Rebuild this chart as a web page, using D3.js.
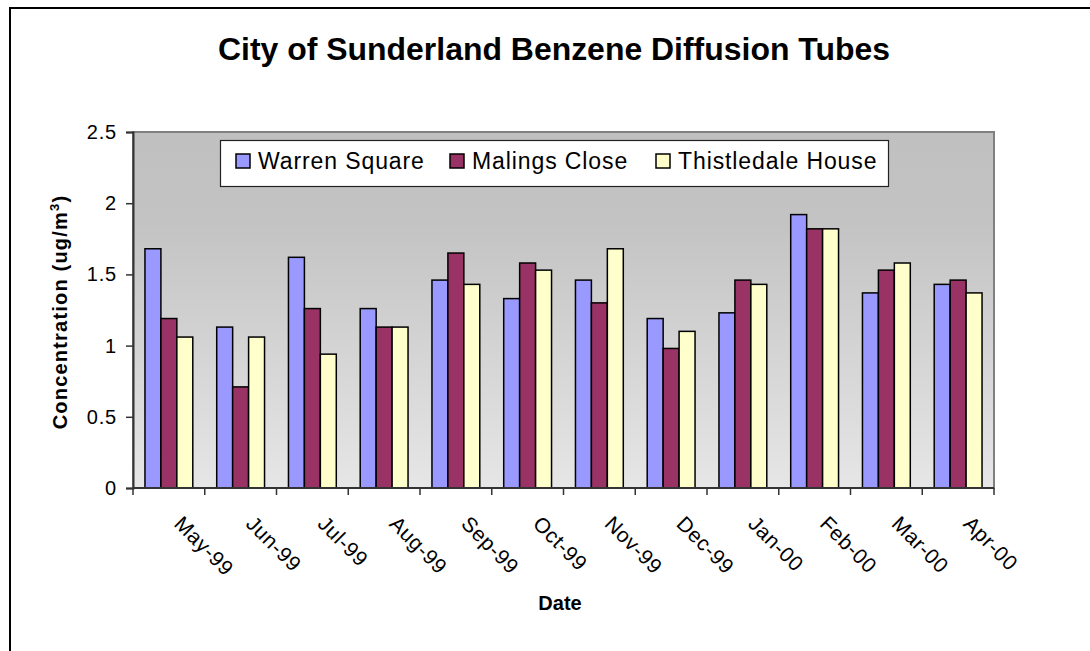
<!DOCTYPE html>
<html>
<head>
<meta charset="utf-8">
<script src="https://cdn.jsdelivr.net/npm/d3@7"></script>
<style>
  body{margin:0;background:#fff;}
  svg{display:block;font-family:Arial,"Liberation Sans",sans-serif;}
</style>
</head>
<body>
<div id="chart"></div>
<script>
// data
const months = ['May-99','Jun-99','Jul-99','Aug-99','Sep-99','Oct-99','Nov-99','Dec-99','Jan-00','Feb-00','Mar-00','Apr-00']
const seriesNames = ['Warren Square','Malings Close','Thistledale House']
const warrenSquare = [1.68,1.13,1.62,1.26,1.46,1.33,1.46,1.19,1.23,1.92,1.37,1.43]
const malingsClose = [1.19,0.71,1.26,1.13,1.65,1.58,1.30,0.98,1.46,1.82,1.53,1.46]
const thistledaleHouse = [1.06,1.06,0.94,1.13,1.43,1.53,1.68,1.10,1.43,1.82,1.58,1.37]
const yTicks = [0,0.5,1,1.5,2,2.5]
const colors = ['#9999ff','#993366','#ffffcc']

const W = 1090, H = 651
const plot = {left:133, right:994, top:132, bottom:488}

const svg = d3.select('#chart').append('svg').attr('width',W).attr('height',H)

// outer chart frame (only top & left visible in the picture)
svg.append('path').attr('d',`M10,${H+5}V8H${W+5}`).attr('fill','none').attr('stroke','#000').attr('stroke-width',2)

const defs = svg.append('defs')
const grad = defs.append('linearGradient').attr('id','bg').attr('x1',0).attr('y1',0).attr('x2',0).attr('y2',1)
grad.append('stop').attr('offset','0').attr('stop-color','#c0c0c0')
grad.append('stop').attr('offset','0.25').attr('stop-color','#c3c3c3')
grad.append('stop').attr('offset','1').attr('stop-color','#e6e6e6')

const x = d3.scaleBand().domain(months).range([plot.left,plot.right]).padding(0)
const xs = d3.scaleBand().domain(seriesNames).range([0,x.bandwidth()]).paddingInner(0).paddingOuter(0.75)
const y = d3.scaleLinear().domain([0,2.5]).range([plot.bottom,plot.top])

// plot area
svg.append('rect')
  .attr('x',plot.left).attr('y',plot.top)
  .attr('width',plot.right-plot.left).attr('height',plot.bottom-plot.top)
  .attr('fill','url(#bg)').attr('stroke','#808080').attr('stroke-width',2)

// bars
const rows = months.map((m,i)=>({month:m, values:[warrenSquare[i],malingsClose[i],thistledaleHouse[i]]}))
const groups = svg.append('g').selectAll('g').data(rows).join('g')
  .attr('transform',d=>`translate(${x(d.month)},0)`)
groups.selectAll('rect').data(d=>d.values.map((v,k)=>({name:seriesNames[k],v,k})))
  .join('rect')
  .attr('x',d=>xs(d.name)).attr('width',xs.bandwidth())
  .attr('y',d=>y(d.v)).attr('height',d=>y(0)-y(d.v))
  .attr('fill',d=>colors[d.k]).attr('stroke','#000').attr('stroke-width',1.5)

// y axis
const yAxis = svg.append('g').attr('transform',`translate(${plot.left},0)`)
  .call(d3.axisLeft(y).tickValues(yTicks).tickSize(7).tickPadding(9).tickFormat(d3.format('')))
yAxis.select('.domain').attr('stroke','#333').attr('stroke-width',2)
yAxis.selectAll('.tick line').attr('stroke','#333').attr('stroke-width',1.5)
yAxis.selectAll('.tick text').attr('font-size',20).attr('letter-spacing',0.8).attr('fill','#000')
  .attr('font-family','Arial,"Liberation Sans",sans-serif')

// x axis: ticks on category boundaries
const xAxis = svg.append('g').attr('transform',`translate(0,${plot.bottom})`)
xAxis.append('line').attr('x1',plot.left).attr('x2',plot.right).attr('stroke','#333').attr('stroke-width',2)
const bounds = months.map(m=>x(m)).concat([plot.right])
xAxis.selectAll('line.tk').data(bounds).join('line').attr('class','tk')
  .attr('x1',d=>d).attr('x2',d=>d).attr('y1',0).attr('y2',7).attr('stroke','#333').attr('stroke-width',1.5)
xAxis.selectAll('text').data(months).join('text')
  .attr('transform',d=>`translate(${x(d)+x.bandwidth()/2+4},${37}) rotate(45)`)
  .attr('font-size',21).attr('letter-spacing',0.6).text(d=>d)

// titles
svg.append('text').attr('x',554).attr('y',60).attr('text-anchor','middle')
  .attr('font-size',31).attr('font-weight','bold')
  .attr('textLength',672).attr('lengthAdjust','spacingAndGlyphs')
  .text('City of Sunderland Benzene Diffusion Tubes')

svg.append('text').attr('x',560).attr('y',610).attr('text-anchor','middle')
  .attr('font-size',20).attr('font-weight','bold').text('Date')

const yl = svg.append('text').attr('transform','translate(67,312) rotate(-90)')
  .attr('text-anchor','middle').attr('font-size',20).attr('font-weight','bold').attr('letter-spacing',1.2)
yl.append('tspan').text('Concentration (ug/m')
yl.append('tspan').attr('font-size',13).attr('dy',-8).text('3')
yl.append('tspan').attr('dy',8).text(')')

// legend
const legend = svg.append('g')
legend.append('rect').attr('x',220.5).attr('y',140.5).attr('width',668).attr('height',46)
  .attr('fill','#fff').attr('stroke','#222').attr('stroke-width',1.2)
const legX = [236,450,656]
const items = legend.selectAll('g').data(seriesNames).join('g')
  .attr('transform',(d,i)=>`translate(${legX[i]},0)`)
items.append('rect').attr('x',0).attr('y',154).attr('width',14).attr('height',14)
  .attr('fill',(d,i)=>colors[i]).attr('stroke','#000').attr('stroke-width',1.5)
items.append('text').attr('x',22).attr('y',169).attr('font-size',23).attr('letter-spacing',0.9).text(d=>d)
</script>
</body>
</html>
